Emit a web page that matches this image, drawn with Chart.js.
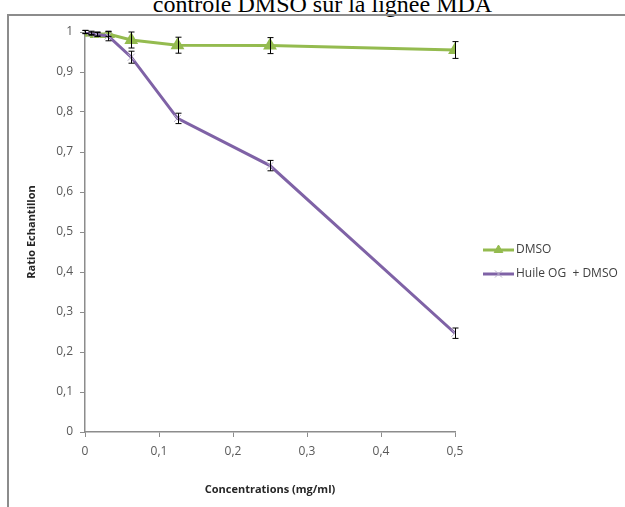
<!DOCTYPE html>
<html>
<head>
<meta charset="utf-8">
<script src="https://cdn.jsdelivr.net/npm/chart.js@4"></script>
<style>
  html, body { margin: 0; padding: 0; background: #fff; overflow: hidden; }
  #wrap { position: relative; width: 625px; height: 507px; overflow: hidden; }
  #title { position: absolute; left: 0; width: 645px; top: -9px; text-align: center;
           font: 24px "Liberation Serif", "DejaVu Serif", serif; color: #000; white-space: nowrap; }
  #frame { position: absolute; left: 7px; top: 14px; width: 700px; height: 600px;
           border-left: 2px solid #8c8c8c; border-top: 2px solid #8c8c8c; }
  #chart { position: absolute; left: 0; top: 0; }
</style>
</head>
<body>
<div id="wrap">
  <div id="title">contrôle DMSO sur la lignée MDA</div>
  <div id="frame"></div>
  <canvas id="chart" width="625" height="507"></canvas>
</div>
<script>
// concentrations (mg/ml)
const concentrations = [0, 0.0078, 0.0156, 0.03125, 0.0625, 0.125, 0.25, 0.5];
// ratio echantillon
const dmsoValues  = [1.0, 0.998, 0.995, 0.995, 0.98, 0.967, 0.966, 0.955];
const dmsoErrors  = [0.004, 0.004, 0.005, 0.006, 0.02, 0.02, 0.02, 0.021];
const huileValues = [1.0, 0.996, 0.994, 0.99, 0.937, 0.784, 0.666, 0.247];
const huileErrors = [0.004, 0.004, 0.005, 0.012, 0.015, 0.013, 0.013, 0.013];
const seriesNames = ["DMSO", "Huile OG  + DMSO"];

const GREEN = "#94bb4f", PURPLE = "#7f62a6", AXIS = "#8c8c8c";
const FONT = '"Open Sans", "Noto Sans", sans-serif';

const pts = (vals) => concentrations.map((x, i) => ({ x, y: vals[i] }));

// barres d'erreur
const errorBars = {
  id: "errorBars",
  afterDatasetsDraw(chart) {
    const { ctx, scales: { x, y } } = chart;
    const errs = [dmsoErrors, huileErrors];
    ctx.save();
    ctx.strokeStyle = "#000";
    ctx.lineWidth = 1;
    chart.data.datasets.forEach((ds, d) => {
      ds.data.forEach((p, i) => {
        const px = Math.round(x.getPixelForValue(p.x)) + 0.5;
        const top = y.getPixelForValue(p.y + errs[d][i]);
        const bot = y.getPixelForValue(p.y - errs[d][i]);
        ctx.beginPath();
        ctx.moveTo(px, top); ctx.lineTo(px, bot);
        ctx.moveTo(px - 3, top); ctx.lineTo(px + 3, top);
        ctx.moveTo(px - 3, bot); ctx.lineTo(px + 3, bot);
        ctx.stroke();
      });
    });
    ctx.restore();
  }
};

// legende a droite
const sideLegend = {
  id: "sideLegend",
  afterDraw(chart) {
    const ctx = chart.ctx;
    const rows = [
      { y: 250, color: GREEN, style: "triangle", fill: GREEN, name: seriesNames[0] },
      { y: 274, color: PURPLE, style: "crossRot", fill: "#b9b0c9", name: seriesNames[1] }
    ];
    ctx.save();
    rows.forEach(r => {
      ctx.strokeStyle = r.color;
      ctx.lineWidth = 3;
      ctx.beginPath();
      ctx.moveTo(483, r.y); ctx.lineTo(514, r.y);
      ctx.stroke();
      ctx.fillStyle = r.fill;
      ctx.strokeStyle = r.fill;
      ctx.lineWidth = 1;
      Chart.helpers.drawPoint(ctx, { pointStyle: r.style, radius: 5, borderWidth: 1 }, 498.5, r.y);
      ctx.fillStyle = "#404040";
      ctx.font = "12px " + FONT;
      ctx.textBaseline = "middle";
      ctx.fillText(r.name, 516, r.y);
    });
    ctx.restore();
  }
};

new Chart(document.getElementById("chart"), {
  type: "line",
  data: {
    datasets: [
      { label: seriesNames[0], data: pts(dmsoValues), borderColor: GREEN, backgroundColor: GREEN,
        borderWidth: 3, pointStyle: "triangle", pointRadius: 5, pointBorderColor: GREEN, order: 1 },
      { label: seriesNames[1], data: pts(huileValues), borderColor: PURPLE, backgroundColor: "#b9b0c9",
        borderWidth: 3, pointStyle: "crossRot", pointRadius: 5, pointBorderColor: "#b9b0c9",
        pointBorderWidth: 1, order: 0 }
    ]
  },
  options: {
    responsive: false,
    animation: false,
    layout: { padding: { top: 32, right: 170, left: 0, bottom: 0 } },
    plugins: { legend: { display: false }, tooltip: { enabled: false } },
    scales: {
      x: {
        type: "linear", min: 0, max: 0.5,
        afterFit: s => { s.height = 75; },
        border: { color: AXIS, width: 1.5 },
        grid: { drawOnChartArea: false, drawTicks: true, tickLength: 5, color: AXIS },
        ticks: { stepSize: 0.1, color: "#595959", font: { family: FONT, size: 12 }, padding: 7,
                 callback: v => String(+v.toFixed(1)).replace(".", ",") },
        title: { display: true, text: "Concentrations (mg/ml)", color: "#262626",
                 font: { family: FONT, size: 11, weight: "bold" }, padding: { bottom: 11 } }
      },
      y: {
        min: 0, max: 1,
        afterFit: s => { s.width = 85; },
        border: { color: AXIS, width: 1.5 },
        grid: { drawOnChartArea: false, drawTicks: true, tickLength: 5, color: AXIS },
        ticks: { stepSize: 0.1, color: "#595959", font: { family: FONT, size: 12 }, padding: 7,
                 callback: v => String(+v.toFixed(1)).replace(".", ",") },
        title: { display: true, text: "Ratio Echantillon", color: "#262626",
                 font: { family: FONT, size: 11, weight: "bold" }, padding: { top: 25 } }
      }
    }
  },
  plugins: [errorBars, sideLegend]
});
</script>
</body>
</html>
